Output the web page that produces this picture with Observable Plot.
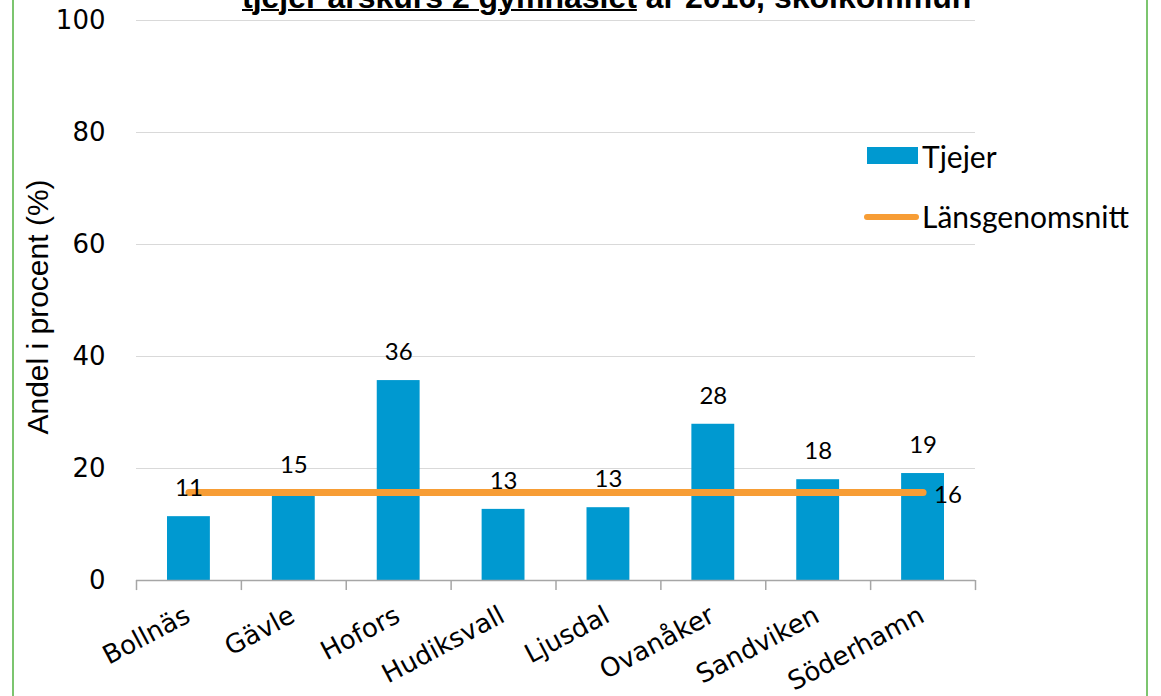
<!DOCTYPE html>
<html><head><meta charset="utf-8">
<script src="https://cdn.jsdelivr.net/npm/d3@7"></script>
<script src="https://cdn.jsdelivr.net/npm/@observablehq/plot@0.6"></script>
<style>
html,body{margin:0;padding:0;width:1161px;height:696px;overflow:hidden;background:#fff;position:relative;}
#frame{position:absolute;left:12px;top:-10px;width:1136px;height:730px;border:2px solid #7cc56f;box-sizing:border-box;}
#title{position:absolute;left:242px;top:-19px;font:bold 32px/32px "Liberation Sans",Arial,sans-serif;white-space:nowrap;color:#000;}
#title u{text-decoration-thickness:2px;}
#chart{position:absolute;left:0;top:0;}
#ylabel{position:absolute;left:38px;top:307px;transform:translate(-50%,-50%) rotate(-90deg);font:30px "Liberation Sans",Arial,sans-serif;white-space:nowrap;color:#000;}
.leg{position:absolute;font:30px Lato,sans-serif;color:#000;white-space:nowrap;line-height:30px;}
.sw{position:absolute;}
</style></head>
<body>
<div id="frame"></div>
<div id="chart"></div>
<div id="title"><u>tjejer årskurs 2 gymnasiet</u> år 2016, skolkommun</div>
<div id="ylabel">Andel i procent (%)</div>
<div class="sw" style="left:867px;top:147px;width:51px;height:17px;background:#0099d0"></div>
<div class="leg" style="left:922px;top:141px">Tjejer</div>
<div class="sw" style="left:864px;top:214px;width:55px;height:6px;border-radius:3px;background:#f79d35"></div>
<div class="leg" style="left:922px;top:201px">Länsgenomsnitt</div>
<script>
const kommuner = ["Bollnäs","Gävle","Hofors","Hudiksvall","Ljusdal","Ovanåker","Sandviken","Söderhamn"];
const tjejer = [11.4, 15.5, 35.7, 12.7, 13.0, 27.9, 18.0, 19.1];
const etiketter = [11, 15, 36, 13, 13, 28, 18, 19];
const lansSnitt = 15.7;
const lansEtikett = 16;
const yTicks = [0, 20, 40, 60, 80, 100];

const data = kommuner.map((k, i) => ({kommun: k, tjejer: tjejer[i], etikett: etiketter[i], snitt: lansSnitt}));

const W = 1161, H = 696, mL = 136, mR = 186, mT = 20, mB = 116;
const step = (W - mL - mR) / kommuner.length;

const chart = Plot.plot({
  width: W, height: H,
  marginLeft: mL, marginRight: mR, marginTop: mT, marginBottom: mB,
  x: {type: "band", domain: kommuner, padding: 0, round: false, label: null},
  y: {domain: [0, 100], label: null},
  style: {fontFamily: "Lato, sans-serif", background: "transparent", overflow: "visible"},
  marks: [
    Plot.gridY(yTicks, {stroke: "#d9d9d9", strokeOpacity: 1, strokeWidth: 1}),
    Plot.axisY(yTicks, {tickSize: 0, tickPadding: 31, fontSize: 26, fontFamily: "DejaVu Sans", label: null, fill: "#000"}),
    Plot.axisX({tickSize: 0, tickPadding: 33, tickRotate: -28, fontSize: 26, fontFamily: "DejaVu Sans", dx: -1, label: null, fill: "#000"}),
    Plot.barY(data, {x: "kommun", y: "tjejer", fill: "#0099d0", insetLeft: 31, insetRight: 31}),
    Plot.ruleY([0], {stroke: "#a6a6a6", strokeWidth: 1.5}),
    Plot.ruleX(kommuner, {x: d => d, y1: 0, y2: -1.8, dx: -step / 2, stroke: "#a6a6a6", strokeWidth: 1.5}),
    Plot.ruleX([kommuner[kommuner.length - 1]], {x: d => d, y1: 0, y2: -1.8, dx: step / 2, stroke: "#a6a6a6", strokeWidth: 1.5}),
    Plot.lineY(data, {x: "kommun", y: "snitt", stroke: "#f79d35", strokeWidth: 7, strokeLinecap: "round"}),
    Plot.text(data, {x: "kommun", y: "tjejer", text: "etikett", dy: -28, fontSize: 24, fontFamily: "Lato", fill: "#000"}),
    Plot.text([data[data.length - 1]], {x: "kommun", y: "snitt", text: () => String(lansEtikett), dx: 11, dy: 3, textAnchor: "start", fontSize: 24, fontFamily: "Lato", fill: "#000"})
  ]
});
document.getElementById("chart").appendChild(chart);
</script>
</body></html>
